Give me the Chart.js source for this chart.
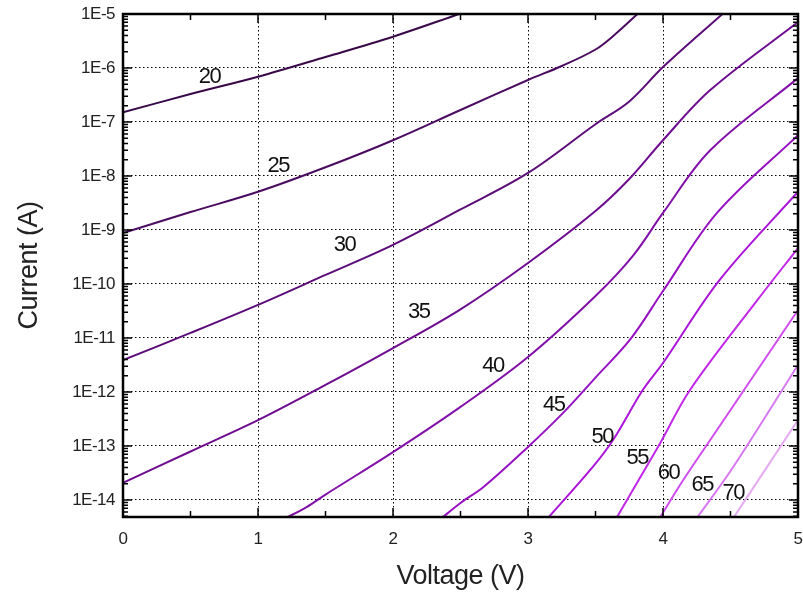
<!DOCTYPE html>
<html lang="en">
<head>
  <meta charset="UTF-8">
  <title>Current vs Voltage</title>
  <script src="https://cdn.jsdelivr.net/npm/chart.js"></script>
  <style>
    body { margin: 0; background: #fff; }
    #wrap { width: 803px; height: 596px; }
  </style>
</head>
<body>
  <div id="wrap"><canvas id="ivChart"></canvas></div>

  <script>
    // curve names (the parameter written next to each curve)
    const curveNames = ['20', '25', '30', '35', '40', '45', '50', '55', '60', '65', '70'];

    // [voltage (V), current (A)]
    const c20 = [[0, 1.51e-7], [0.5, 3.3e-7], [1, 6.9e-7], [1.5, 1.6e-6], [2, 3.8e-6], [2.5, 1.02e-5]];
    const c25 = [[0, 8.8e-10], [0.5, 2.15e-9], [1, 5.1e-9], [1.5, 1.45e-8], [2, 4.6e-8], [2.5, 1.67e-7], [3, 6.0e-7], [3.25, 1.09e-6], [3.5, 2.2e-6], [3.65, 4.3e-6], [3.82, 1.05e-5]];
    const c30 = [[0, 3.9e-12], [0.5, 1.24e-11], [1, 4.1e-11], [1.5, 1.47e-10], [2, 5.3e-10], [2.5, 2.4e-9], [3, 1.14e-8], [3.5, 9.1e-8], [3.75, 2.4e-7], [4, 1.04e-6], [4.45, 1.05e-5]];
    const c35 = [[0, 2.07e-14], [0.5, 7.9e-14], [1, 3.0e-13], [1.5, 1.35e-12], [2, 6.5e-12], [2.5, 3.4e-11], [3, 2.45e-10], [3.5, 2.25e-9], [3.75, 8.8e-9], [4, 4.6e-8], [4.35, 3.9e-7], [5, 7.1e-6]];
    const c40 = [[1.18, 4.3e-15], [1.36, 7.4e-15], [1.5, 1.26e-14], [2, 7.7e-14], [2.5, 5.3e-13], [3, 4.45e-12], [3.5, 6.0e-11], [3.78, 3.4e-10], [4, 2.07e-9], [4.35, 3.0e-8], [5, 6.5e-7]];
    const c45 = [[2.35, 4.4e-15], [2.5, 8.8e-15], [2.67, 1.74e-14], [3, 9.6e-14], [3.26, 4.1e-13], [3.5, 1.85e-12], [3.76, 9.6e-12], [4, 7.4e-11], [4.4, 2.07e-9], [5, 5.7e-8]];
    const c50 = [[3.14, 4.4e-15], [3.48, 4.1e-14], [3.63, 1.29e-13], [3.85, 1.09e-12], [4, 3.44e-12], [4.42, 1.19e-10], [5, 5.1e-9]];
    const c55 = [[3.65, 4.4e-15], [3.98, 1.14e-13], [4.2, 1.09e-12], [4.7, 5.06e-11], [5, 4.64e-10]];
    const c60 = [[3.97, 4.4e-15], [4.15, 2.34e-14], [4.4, 1.98e-13], [5, 3.3e-11]];
    const c65 = [[4.245, 4.4e-15], [4.52, 4.08e-14], [5, 3.16e-12]];
    const c70 = [[4.515, 4.4e-15], [5, 3.03e-13]];

    // where each curve's number sits [voltage, current]
    const labelPos = [[0.64, 6.8e-7], [1.15, 1.53e-8], [1.64, 5.3e-10], [2.19, 3.0e-11], [2.74, 3.0e-12],
                      [3.19, 5.7e-13], [3.55, 1.47e-13], [3.81, 6.0e-14], [4.04, 3.16e-14], [4.29, 1.9e-14], [4.52, 1.35e-14]];

    const curveColors = ['#380848', '#4a0b60', '#5c0c78', '#6e0c90', '#8210a8', '#9612c2',
                         '#ac14da', '#c226e8', '#d04cf0', '#d878f2', '#e6aaf4'];

    const xTicks = [0, 1, 2, 3, 4, 5];
    const yTicks = [1e-14, 1e-13, 1e-12, 1e-11, 1e-10, 1e-9, 1e-8, 1e-7, 1e-6, 1e-5];
    const yTickLabels = ['1E-14', '1E-13', '1E-12', '1E-11', '1E-10', '1E-9', '1E-8', '1E-7', '1E-6', '1E-5'];

    const curves = [c20, c25, c30, c35, c40, c45, c50, c55, c60, c65, c70];
    const FONT = "'Liberation Sans', Arial, sans-serif";

    // tighter letters, like the original
    const spacingPlugin = {
      id: 'spacing',
      beforeDraw(chart) { chart.ctx.letterSpacing = '-0.5px'; }
    };

    // box, inward ticks on all four sides, and the curve numbers
    const framePlugin = {
      id: 'frame',
      afterDatasetsDraw(chart) {
        const { ctx, chartArea: a, scales: { x, y } } = chart;
        ctx.save();
        ctx.strokeStyle = '#000';
        ctx.lineWidth = 1.5;
        ctx.beginPath();
        for (let v = 0; v <= 5.001; v += 0.5) {
          const px = x.getPixelForValue(v);
          const len = Math.abs(v - Math.round(v)) < 0.01 ? 9 : 6;
          ctx.moveTo(px, a.bottom); ctx.lineTo(px, a.bottom - len);
          ctx.moveTo(px, a.top); ctx.lineTo(px, a.top + len);
        }
        for (let e = -15; e <= -5; e++) {
          for (let m = 1; m <= 9; m++) {
            const v = m * Math.pow(10, e);
            if (v < y.min || v > y.max * 1.0001) continue;
            const py = y.getPixelForValue(v);
            const len = m === 1 ? 9 : 5;
            ctx.moveTo(a.left, py); ctx.lineTo(a.left + len, py);
            ctx.moveTo(a.right, py); ctx.lineTo(a.right - len, py);
          }
        }
        ctx.stroke();
        ctx.lineWidth = 2.5;
        ctx.strokeRect(a.left, a.top, a.right - a.left, a.bottom - a.top);

        ctx.fillStyle = '#111';
        ctx.font = '22px ' + FONT;
        ctx.textAlign = 'center';
        ctx.textBaseline = 'middle';
        ctx.letterSpacing = '-1.5px';
        labelPos.forEach((p, i) => {
          ctx.fillText(curveNames[i], x.getPixelForValue(p[0]), y.getPixelForValue(p[1]));
        });
        ctx.restore();
      }
    };

    new Chart(document.getElementById('ivChart'), {
      type: 'line',
      data: {
        datasets: curves.map((c, i) => ({
          label: curveNames[i],
          data: c.map(p => ({ x: p[0], y: p[1] })),
          borderColor: curveColors[i],
          borderWidth: 2,
          pointRadius: 0,
          tension: 0.35,
          fill: false
        }))
      },
      options: {
        responsive: true,
        maintainAspectRatio: false,
        animation: false,
        layout: { padding: { top: 14, right: 5, left: 0, bottom: 0 } },
        plugins: { legend: { display: false }, tooltip: { enabled: false } },
        scales: {
          x: {
            type: 'linear',
            min: 0,
            max: 5,
            afterBuildTicks: s => { s.ticks = xTicks.map(v => ({ value: v })); },
            afterFit: s => { s.height = 79; s.paddingLeft = 0; s.paddingRight = 0; },
            ticks: { color: '#222', font: { family: FONT, size: 17 }, padding: 12, autoSkip: false, maxRotation: 0 },
            grid: { color: '#000', lineWidth: 1, drawTicks: false },
            border: { display: false, dash: [1.5, 2.5] },
            title: { display: true, text: 'Voltage (V)', color: '#222', font: { family: FONT, size: 27 }, padding: { bottom: 3 } }
          },
          y: {
            type: 'logarithmic',
            min: 4.84e-15,
            max: 1e-5,
            afterBuildTicks: s => { s.ticks = yTicks.map(v => ({ value: v })); },
            afterFit: s => { s.width = 123; s.paddingTop = 0; s.paddingBottom = 0; },
            ticks: {
              color: '#222',
              font: { family: FONT, size: 17 },
              padding: 8,
              autoSkip: false,
              callback: v => {
                const k = yTicks.findIndex(t => Math.abs(t - v) / t < 1e-6);
                return k >= 0 ? yTickLabels[k] : '';
              }
            },
            grid: { color: '#000', lineWidth: 1, drawTicks: false },
            border: { display: false, dash: [1.5, 2.5] },
            title: { display: true, text: 'Current (A)', color: '#222', font: { family: FONT, size: 27 }, padding: { top: 13 } }
          }
        }
      },
      plugins: [spacingPlugin, framePlugin]
    });
  </script>
</body>
</html>
